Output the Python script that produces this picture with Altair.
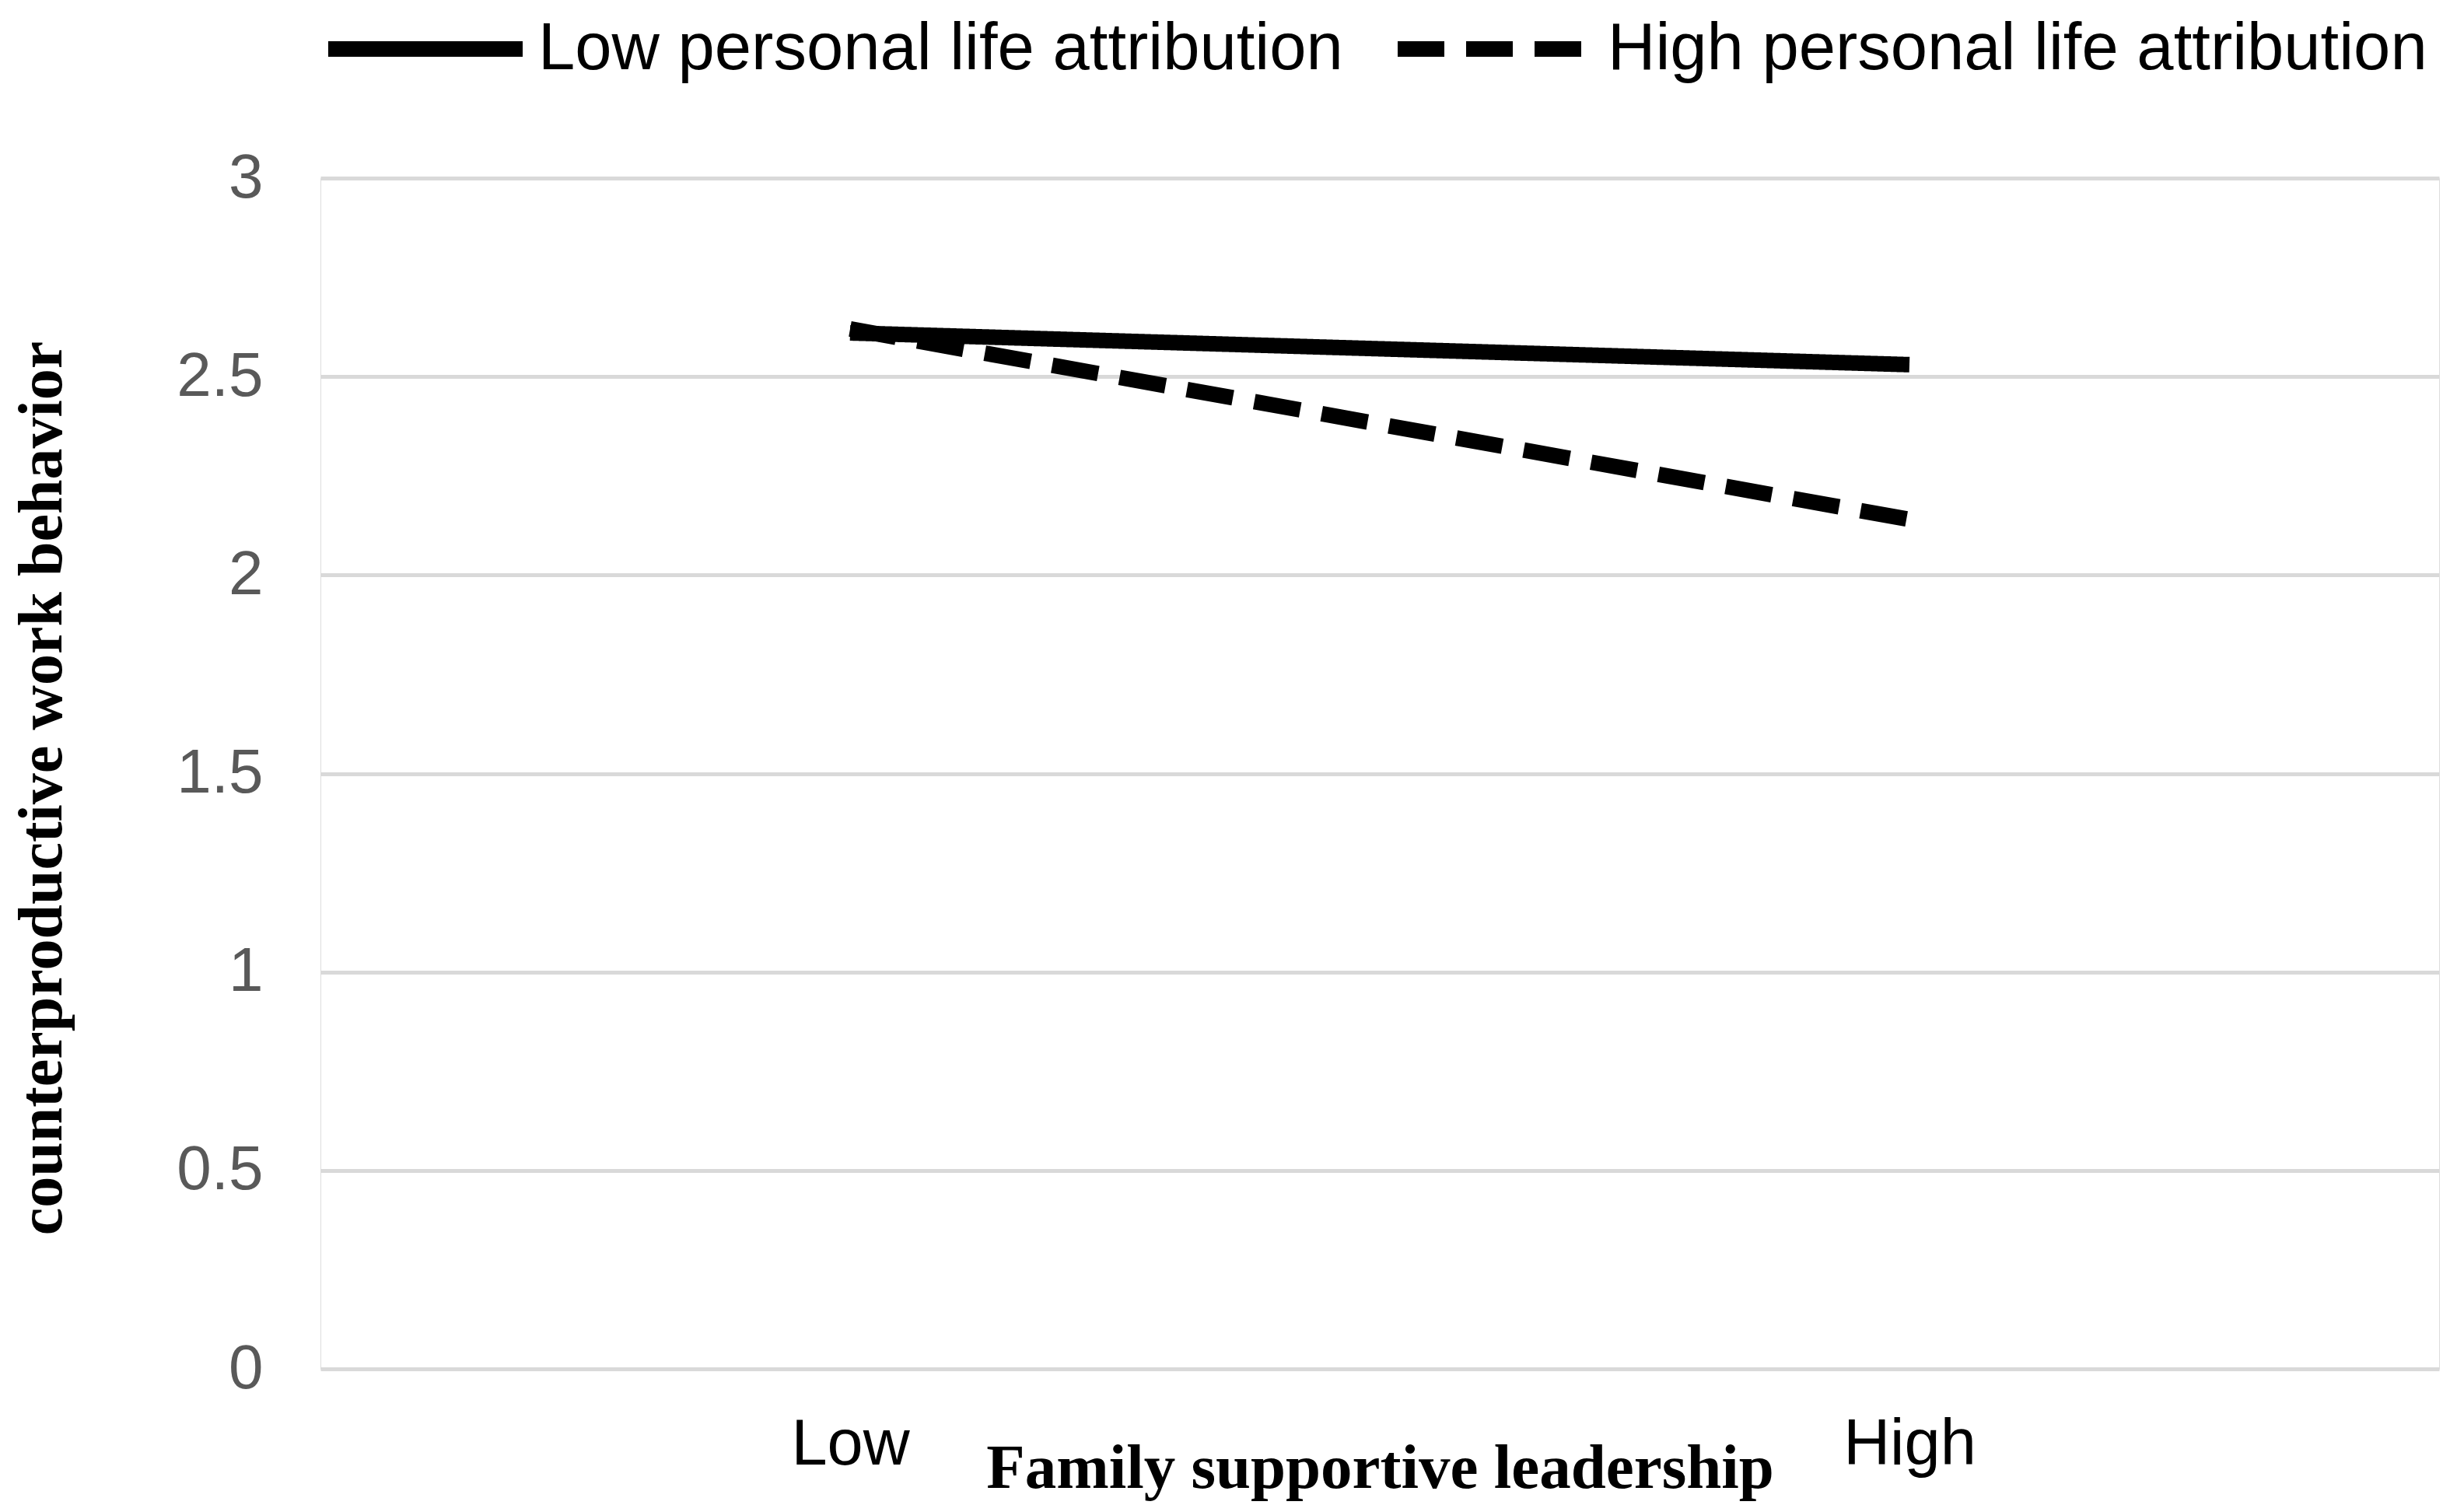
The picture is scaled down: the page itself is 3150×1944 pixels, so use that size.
import altair as alt
import pandas as pd

levels = ["Low", "High"]
series = ["Low personal life attribution", "High personal life attribution"]
low_attr_values = [2.61, 2.53]
high_attr_values = [2.62, 2.14]
y_ticks = [0, 0.5, 1, 1.5, 2, 2.5, 3]

rows = []
for s, vals in zip(series, [low_attr_values, high_attr_values]):
    for lv, v in zip(levels, vals):
        rows.append({"fsl": lv, "cwb": v, "series": s})
df = pd.DataFrame(rows)

W, H = 2724, 1531

chart = alt.Chart(df).mark_line(strokeWidth=20, color="black", strokeCap="butt").encode(
    x=alt.X(
        "fsl:N",
        sort=levels,
        scale=alt.Scale(type="point", padding=0.5),
        axis=alt.Axis(
            title="Family supportive leadership",
            labelAngle=0, ticks=False, tickSize=0, domain=False, grid=False,
            labelFont="Liberation Sans", labelFontSize=83, labelColor="#000000",
            labelBaseline="alphabetic", labelPadding=122,
            titleFont="Liberation Serif", titleFontWeight="bold", titleFontSize=81,
            titleColor="#000000", titleX=W / 2, titleY=152, titleBaseline="alphabetic",
            titleAlign="center",
        ),
    ),
    y=alt.Y(
        "cwb:Q",
        scale=alt.Scale(domain=[0, 3], nice=False, zero=True),
        axis=alt.Axis(
            title="counterproductive work behavior",
            values=y_ticks, format=".2~f",
            ticks=False, tickSize=0, domain=False,
            grid=True, gridColor="#d9d9d9", gridWidth=5,
            labelFont="Liberation Sans", labelFontSize=80, labelColor="#595959",
            labelPadding=74, labelBaseline="middle",
            titleFont="Liberation Serif", titleFontWeight="bold", titleFontSize=80,
            titleColor="#000000", titleAngle=270, titleX=-334, titleY=784,
            titleBaseline="alphabetic", titleAlign="center",
        ),
    ),
    strokeDash=alt.StrokeDash(
        "series:N",
        sort=series,
        scale=alt.Scale(domain=series, range=[[1, 0], [60, 28]]),
        legend=alt.Legend(
            title=None, orient="none", legendX=0, legendY=-301,
            direction="horizontal", symbolType="stroke", symbolSize=62500,
            symbolStrokeWidth=20, symbolStrokeColor="#000000",
            labelFont="Liberation Sans", labelFontSize=85, labelColor="#000000",
            labelOffset=10, labelLimit=3000, columnPadding=30, padding=0,
        ),
    ),
).properties(
    width=W, height=H,
    autosize=alt.AutoSizeParams(type="none"),
    padding={"left": 404, "top": 221, "right": 6, "bottom": 184},
).configure_view(stroke=None).configure(background="white")

chart.save("out.html", embed_options={"renderer": "svg", "actions": False})
